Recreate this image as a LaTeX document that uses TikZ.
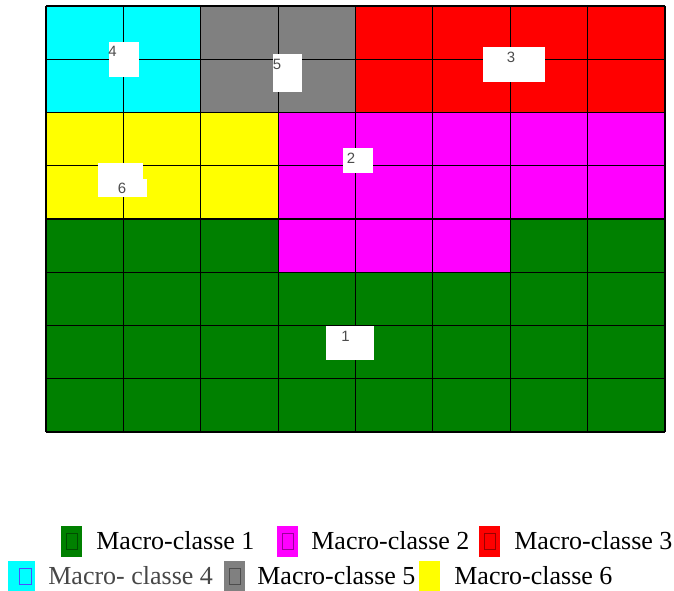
\documentclass[tikz,border=0pt]{standalone}
\usepackage{fontspec}
\setmainfont{Liberation Serif}
\newfontfamily\numfont{Liberation Sans}
\definecolor{mcgreen}{HTML}{008000}
\definecolor{mcmagenta}{HTML}{FF00FF}
\definecolor{mcred}{HTML}{FF0000}
\definecolor{mccyan}{HTML}{00FFFF}
\definecolor{mcgray}{HTML}{808080}
\definecolor{mcyellow}{HTML}{FFFF00}
\tikzset{
  zonelabel/.style={inner sep=0pt,font=\numfont\fontsize{8.5}{10}\selectfont,text=black!70},
  keytext/.style={anchor=base west,inner sep=0pt,font=\fontsize{14.8}{17}\selectfont},
}
\begin{document}
\begin{tikzpicture}[x=0.02cm,y=-0.02cm]
  \useasboundingbox (0,0) rectangle (674,591);
  % zones
  \fill[mccyan] (46,6) rectangle (200.75,112.5);
  \fill[mcgray] (200.75,6) rectangle (355.5,112.5);
  \fill[mcred] (355.5,6) rectangle (665,112.5);
  \fill[mcyellow] (46,112.5) rectangle (278.125,219);
  \fill[mcmagenta] (278.125,112.5) rectangle (665,219);
  \fill[mcmagenta] (278.125,219) rectangle (510.25,272.25);
  \fill[mcgreen] (46,219) rectangle (278.125,272.25);
  \fill[mcgreen] (510.25,219) rectangle (665,272.25);
  \fill[mcgreen] (46,272.25) rectangle (665,432);
  % grid
  \foreach \i in {0,...,8} {
    \draw[line width=0.6pt] (46+\i*77.375,6) -- (46+\i*77.375,432);
    \draw[line width=0.6pt] (46,6+\i*53.25) -- (665,6+\i*53.25);
  }
  % white label boxes
  \fill[white] (109,42) rectangle (138.7,76.7);
  \fill[white] (272.7,54.3) rectangle (302.3,91.7);
  \fill[white] (98.3,163.3) rectangle (143.3,196.7);
  \fill[white] (117.7,179.3) rectangle (147,197);
  \fill[white] (343.3,147.7) rectangle (372.7,172.7);
  \fill[white] (483.3,46.7) rectangle (545.3,81.7);
  \fill[white] (325.7,326) rectangle (374,360);
  \node[zonelabel] (z4) at (112.5,51.5) {4};
  \node[zonelabel] (z5) at (277,64.5) {5};
  \node[zonelabel] (z6) at (122,188.5) {6};
  \node[zonelabel] (z2) at (351,158) {2};
  \node[zonelabel] (z3) at (511,57) {3};
  \node[zonelabel] (z1) at (345.5,336) {1};
  % legend
  \foreach \x/\y/\c in {61/526/mcgreen,277/526/mcmagenta,479/526/mcred,
                        224/561/mcgray} {
    \fill[\c] (\x,\y) rectangle +(21,31);
    \draw[\c!60!black,line width=0.4pt] (\x+5,\y+7) rectangle +(11,16);
  }
  \fill[mccyan] (8,561) rectangle +(27,31);
  \draw[blue!70,line width=0.4pt] (19,568) rectangle +(12.5,16);
  \fill[mcyellow] (419,561) rectangle +(21,31);
  \node[keytext] (t1) at (96,550) {Macro-classe 1};
  \node[keytext] (t2) at (311,550) {Macro-classe 2};
  \node[keytext] (t3) at (514,550) {Macro-classe 3};
  \node[keytext,text=black!72] (t4) at (48,585) {Macro- classe 4};
  \node[keytext] (t5) at (257,585) {Macro-classe 5};
  \node[keytext] (t6) at (454,585) {Macro-classe 6};
\end{tikzpicture}
\end{document}
